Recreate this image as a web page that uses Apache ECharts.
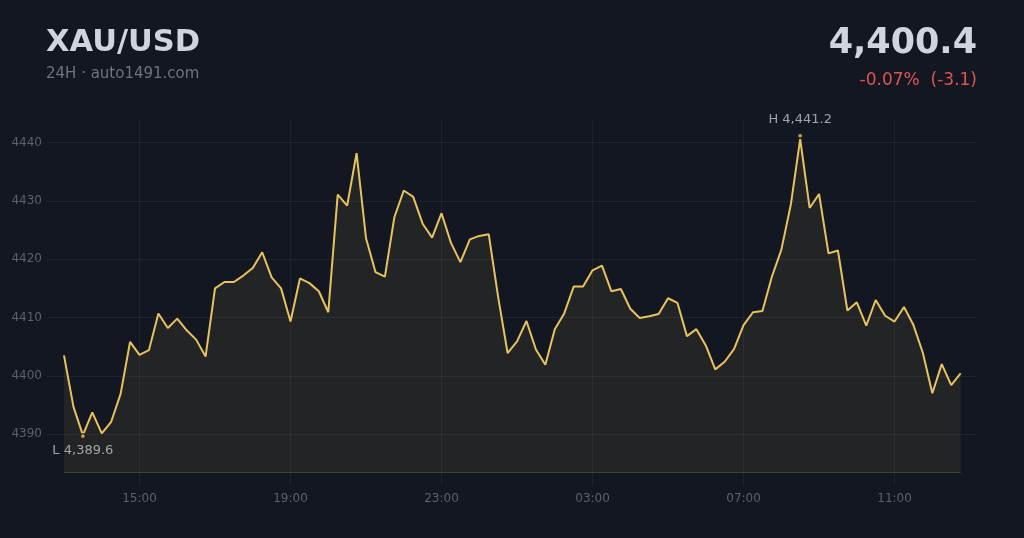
<!DOCTYPE html>
<html>
<head>
<meta charset="utf-8">
<script src="https://cdn.jsdelivr.net/npm/echarts@6/dist/echarts.min.js"></script>
<style>
  html, body { margin: 0; padding: 0; background: #131722; }
  #chart { width: 1024px; height: 538px; }
</style>
</head>
<body>
<div id="chart"></div>
<script>
// ---- data (15-minute closes, starting 13:00) ----
var startHour = 13;
var stepMinutes = 15;
var prices = [
  4403.5, 4394.7, 4389.8, 4393.7, 4390.1, 4392.1, 4396.9, 4405.8, 4403.6, 4404.4,
  4410.7, 4408.2, 4409.8, 4407.8, 4406.2, 4403.3, 4415.0, 4416.1, 4416.1, 4417.2,
  4418.5, 4421.2, 4416.9, 4415.0, 4409.3, 4416.7, 4415.9, 4414.5, 4410.9, 4431.1,
  4429.2, 4438.2, 4423.6, 4417.8, 4417.0, 4427.2, 4431.8, 4430.7, 4426.1, 4423.7,
  4427.9, 4422.8, 4419.5, 4423.4, 4424.0, 4424.3, 4413.5, 4403.9, 4405.9, 4409.4,
  4404.5, 4401.9, 4408.0, 4410.7, 4415.3, 4415.3, 4418.1, 4418.9, 4414.5, 4414.9,
  4411.5, 4409.9, 4410.2, 4410.6, 4413.3, 4412.5, 4406.8, 4408.0, 4405.2, 4401.1,
  4402.4, 4404.6, 4408.7, 4410.9, 4411.1, 4417.0, 4421.6, 4429.3, 4440.6, 4428.8,
  4431.2, 4421.0, 4421.5, 4411.2, 4412.6, 4408.6, 4413.0, 4410.3, 4409.3, 4411.8,
  4408.7, 4403.9, 4397.0, 4402.0, 4398.4, 4400.4
];
var highValue = 4441.2, highIndex = 78;
var lowValue = 4389.6, lowIndex = 2;
var baseValue = 4383.4;
var yTicks = [4390, 4400, 4410, 4420, 4430, 4440];
var xTickLabels = ['15:00', '19:00', '23:00', '03:00', '07:00', '11:00'];
var symbolName = 'XAU/USD';
var subtitle = '24H \u00b7 auto1491.com';
var lastPrice = '4,400.4';
var changeText = '-0.07%  (-3.1)';

// ---- helpers ----
function labelToMinutes(lbl) {
  var p = lbl.split(':');
  var m = (parseInt(p[0], 10) - startHour) * 60 + parseInt(p[1], 10);
  if (m < 0) m += 24 * 60;
  return m;
}
function minutesToLabel(m) {
  var t = ((startHour * 60 + m) % 1440 + 1440) % 1440;
  var h = Math.floor(t / 60), mm = t % 60;
  return (h < 10 ? '0' : '') + h + ':' + (mm < 10 ? '0' : '') + mm;
}
function fmt(v) {
  return v.toLocaleString('en-US', { minimumFractionDigits: 1, maximumFractionDigits: 1 });
}
var lineData = prices.map(function (v, i) { return [i * stepMinutes, v]; });
var xTickValues = xTickLabels.map(labelToMinutes);
var lastX = (prices.length - 1) * stepMinutes;

var GOLD = '#e8c25c';
var BG = '#131722';

var chart = echarts.init(document.getElementById('chart'), null, { renderer: 'canvas' });
chart.setOption({
  backgroundColor: BG,
  animation: false,
  textStyle: { fontFamily: 'DejaVu Sans' },
  graphic: [
    { type: 'text', x: 46, y: 43, style: { text: symbolName, fill: '#d1d4dc', font: 'bold 30.5px "DejaVu Sans"', textAlign: 'left', textVerticalAlign: 'middle' } },
    { type: 'text', x: 46, y: 74, style: { text: subtitle, fill: '#70737e', font: '15px "DejaVu Sans"', textAlign: 'left', textVerticalAlign: 'middle' } },
    { type: 'text', x: 977, y: 44, style: { text: lastPrice, fill: '#d1d4dc', font: 'bold 35px "DejaVu Sans"', textAlign: 'right', textVerticalAlign: 'middle' } },
    { type: 'text', x: 977, y: 81, style: { text: changeText, fill: '#e0544f', font: '17px "DejaVu Sans"', textAlign: 'right', textVerticalAlign: 'middle' } }
  ],
  grid: { left: 47, right: 47, top: 119, bottom: 53, containLabel: false },
  xAxis: {
    type: 'value',
    min: -27,
    max: 1451,
    axisLine: { show: false },
    axisTick: { show: false, customValues: xTickValues },
    axisLabel: {
      customValues: xTickValues,
      formatter: function (v) { return minutesToLabel(v); },
      color: '#5d606b',
      fontSize: 12,
      margin: 8,
      fontFamily: 'DejaVu Sans'
    },
    splitLine: { show: true, lineStyle: { color: 'rgba(255,255,255,0.055)', width: 1 } }
  },
  yAxis: {
    type: 'value',
    min: 4381.25,
    max: 4444.07,
    axisLine: { show: false },
    axisTick: { show: false, customValues: yTicks },
    axisLabel: {
      customValues: yTicks,
      color: '#5d606b',
      fontSize: 12,
      margin: 5,
      fontFamily: 'DejaVu Sans',
      formatter: function (v) { return String(Math.round(v)); }
    },
    splitLine: { show: true, lineStyle: { color: 'rgba(255,255,255,0.055)', width: 1 } }
  },
  series: [
    {
      type: 'line',
      data: lineData,
      showSymbol: false,
      symbol: 'none',
      lineStyle: { color: GOLD, width: 2 },
      areaStyle: { color: 'rgba(232,194,92,0.11)', origin: baseValue },
      z: 3
    },
    {
      type: 'line',
      data: [[0, baseValue], [lastX, baseValue]],
      symbol: 'none',
      silent: true,
      lineStyle: { color: 'rgba(232,194,92,0.22)', width: 1 },
      z: 2
    },
    {
      type: 'scatter',
      symbol: 'circle',
      symbolSize: 5,
      itemStyle: { color: GOLD, borderColor: BG, borderWidth: 1.5 },
      data: [
        { value: [highIndex * stepMinutes, highValue], label: { show: true, position: 'top', distance: 6, formatter: 'H ' + fmt(highValue) } },
        { value: [lowIndex * stepMinutes, lowValue], label: { show: true, position: 'bottom', distance: 5, formatter: 'L ' + fmt(lowValue) } }
      ],
      label: { color: '#c3c6ce', fontSize: 13, fontFamily: 'DejaVu Sans' },
      z: 5
    }
  ]
});
</script>
</body>
</html>
